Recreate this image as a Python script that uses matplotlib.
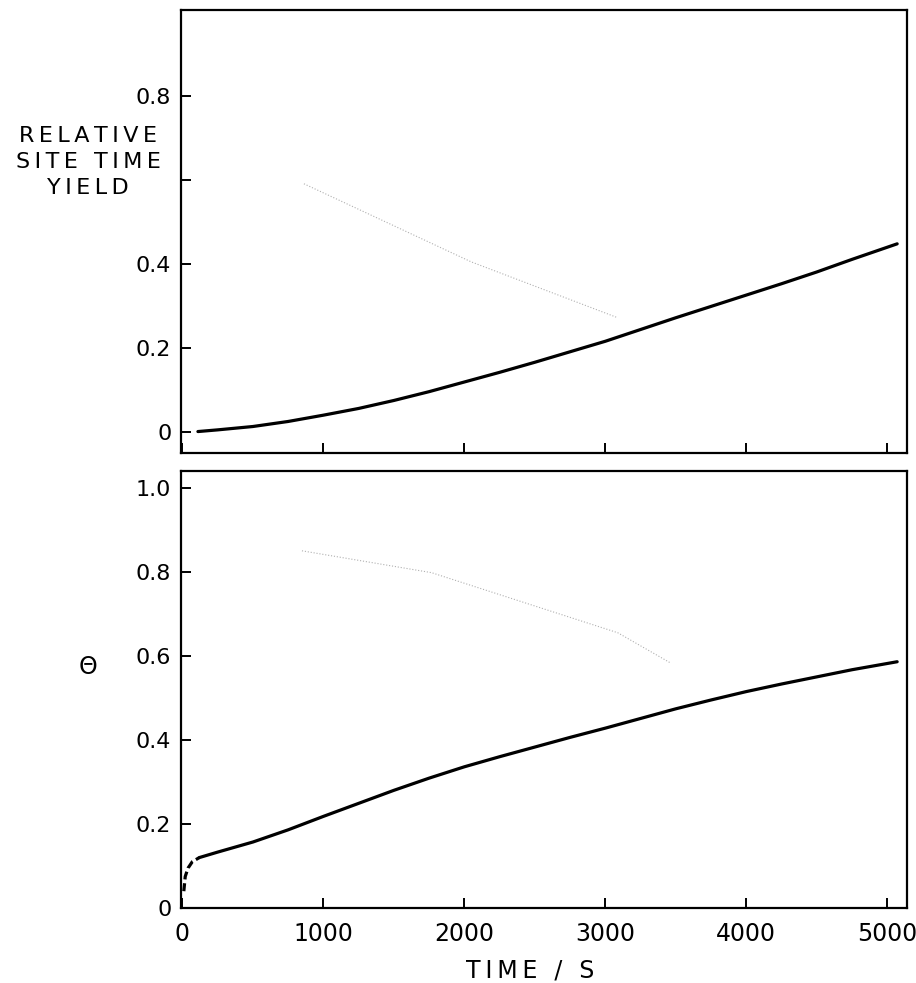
import matplotlib
matplotlib.use('Agg')
import matplotlib.pyplot as plt

# relative site time yield (top panel)
yield_t = [110, 250, 500, 750, 1000, 1250, 1500, 1750, 2000, 2250, 2500,
           2750, 3000, 3250, 3500, 3750, 4000, 4250, 4500, 4750, 5070]
yield_v = [0.0, 0.004, 0.012, 0.024, 0.039, 0.055, 0.074, 0.095, 0.118,
           0.141, 0.165, 0.19, 0.215, 0.243, 0.271, 0.298, 0.325, 0.352,
           0.38, 0.41, 0.447]

# coverage theta (bottom panel), dashed start then solid
theta_dash_t = [10, 20, 40, 70, 120]
theta_dash_v = [0.04, 0.075, 0.095, 0.11, 0.12]
theta_t = [120, 250, 500, 750, 1000, 1250, 1500, 1750, 2000, 2250, 2500,
           2750, 3000, 3250, 3500, 3750, 4000, 4250, 4500, 4750, 5070]
theta_v = [0.12, 0.133, 0.157, 0.186, 0.218, 0.249, 0.28, 0.309, 0.336,
           0.36, 0.383, 0.406, 0.428, 0.451, 0.474, 0.495, 0.515, 0.533,
           0.55, 0.567, 0.586]

# faint show-through traces from the scan
ghost_top_t = [862, 2049, 3088]
ghost_top_v = [0.59, 0.404, 0.271]
ghost_bot_t = [848, 1767, 3088, 3463]
ghost_bot_v = [0.85, 0.798, 0.655, 0.583]

x_ticks = [0, 1000, 2000, 3000, 4000, 5000]
top_yticks = [0, 0.2, 0.4, 0.6, 0.8]
top_ylabels = ['0', '0.2', '0.4', '', '0.8']
bot_yticks = [0, 0.2, 0.4, 0.6, 0.8, 1.0]
bot_ylabels = ['0', '0.2', '0.4', '0.6', '0.8', '1.0']

plt.rcParams['font.family'] = ['DejaVu Sans']
fs = 16
thin = '\u2009'


def spaced(s):
    # mimic the wide lettering of the original
    return '\n'.join(thin.join(line) for line in s.split('\n'))


fig = plt.figure(figsize=(9.16, 9.83), dpi=100)
ax1 = fig.add_axes([0.1976, 0.5392, 0.7926, 0.4507])
ax2 = fig.add_axes([0.1976, 0.0763, 0.7926, 0.4446])

for ax in (ax1, ax2):
    ax.set_xlim(-10, 5140)
    for s in ax.spines.values():
        s.set_linewidth(1.6)
    ax.tick_params(direction='in', length=7, width=1.4, labelsize=fs,
                   top=False, right=False)
    ax.tick_params(axis='y', pad=7)
    ax.tick_params(axis='x', pad=10, labelsize=17)
    ax.set_xticks(x_ticks)

ax1.plot(ghost_top_t, ghost_top_v, color='#b0b0b0', lw=0.8, ls=':')
ax1.plot(yield_t, yield_v, color='black', lw=2.3, solid_capstyle='round')
ax1.set_ylim(-0.051, 1.004)
ax1.set_yticks(top_yticks)
ax1.set_yticklabels(top_ylabels)
ax1.set_xticklabels([])

ax2.plot(ghost_bot_t, ghost_bot_v, color='#b0b0b0', lw=0.8, ls=':')
ax2.plot(theta_dash_t, theta_dash_v, color='black', lw=2.3, ls=(0, (2.5, 1.2)))
ax2.plot(theta_t, theta_v, color='black', lw=2.3, solid_capstyle='round')
ax2.set_ylim(0, 1.04)
ax2.set_yticks(bot_yticks)
ax2.set_yticklabels(bot_ylabels)
ax2.set_xticklabels([str(v) for v in x_ticks])

fig.text(88 / 916, 1 - 162 / 983, spaced('RELATIVE\nSITE TIME\nYIELD'),
         ha='center', va='center', fontsize=16, linespacing=1.35)
fig.text(88 / 916, 1 - 667 / 983, 'Θ', ha='center', va='center', fontsize=17)
fig.text(530 / 916, 1 - 970 / 983, spaced('TIME / S'), ha='center',
         va='center', fontsize=17)

fig.savefig('out.png', dpi=100)
